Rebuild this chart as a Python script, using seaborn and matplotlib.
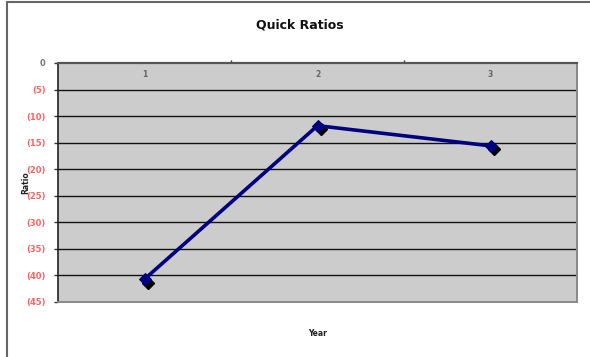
import matplotlib
matplotlib.use("Agg")
import matplotlib.pyplot as plt
import matplotlib.transforms as mtransforms
import numpy as np
import pandas as pd
import seaborn as sns

years = [1, 2, 3]
quick_ratios = [-40.7, -11.8, -15.6]
y_ticks = [0, -5, -10, -15, -20, -25, -30, -35, -40, -45]
y_tick_labels = ["0", "(5)", "(10)", "(15)", "(20)", "(25)", "(30)", "(35)", "(40)", "(45)"]

df = pd.DataFrame({"Year": years, "Ratio": quick_ratios})

sns.set_theme(style="white")
plt.rcParams["font.family"] = ["DejaVu Sans"]

fig = plt.figure(figsize=(5.9, 3.57), dpi=100)
ax = fig.add_axes([58 / 590, 1 - 302 / 357, 519 / 590, 239 / 357])
ax.set_facecolor("#cccccc")

# horizontal gridlines at each tick
for v in y_ticks[1:-1]:
    ax.axhline(v, color="#111111", lw=1.0, zorder=1)

# drop shadow for the diamond markers
shadow = ax.transData + mtransforms.ScaledTranslation(2.5 / 72, -2.5 / 72, fig.dpi_scale_trans)
ax.plot(df["Year"], df["Ratio"], ls="none", marker="D", ms=6, color="black",
        transform=shadow, zorder=3)

sns.lineplot(data=df, x="Year", y="Ratio", ax=ax, color="#000080", lw=2.6,
             marker="D", markersize=6, markeredgecolor="#000080", zorder=4)

ax.set_xlim(0.5, 3.5)
ax.set_ylim(-45, 0)

ax.set_yticks(y_ticks)
ax.set_yticklabels(y_tick_labels, fontsize=6, fontweight="bold")
for lbl in ax.get_yticklabels():
    lbl.set_color("#ff6060" if lbl.get_text() != "0" else "#777777")
ax.tick_params(axis="y", length=3, width=1, color="#333333", pad=6, left=True)

# category labels just under the top axis, tick marks between categories
ax.xaxis.set_ticks_position("top")
ax.set_xticks([1.5, 2.5])
ax.set_xticklabels([])
ax.tick_params(axis="x", length=2, width=1, color="#333333", top=True, bottom=False)
for yr in years:
    ax.text(yr, -2.2, str(yr), ha="center", va="center", fontsize=5.5,
            fontweight="bold", color="#666666", zorder=5)

for side, col, lw in [("top", "#555555", 1.6), ("left", "#222222", 1.2),
                      ("right", "#888888", 1.4), ("bottom", "#888888", 1.4)]:
    ax.spines[side].set_visible(True)
    ax.spines[side].set_color(col)
    ax.spines[side].set_linewidth(lw)

ax.set_xlabel("")
ax.set_ylabel("")
fig.text(300 / 590, 1 - 25 / 357, "Quick Ratios", ha="center", va="center",
         fontsize=9, fontweight="bold", color="#111111")
fig.text(318 / 590, 1 - 333 / 357, "Year", ha="center", va="center",
         fontsize=5.5, fontweight="bold", color="#222222")
fig.text(26 / 590, 1 - 183 / 357, "Ratio", ha="center", va="center", rotation=90,
         fontsize=5.5, fontweight="bold", color="#222222")

# outer chart frame (left and top edges)
fig.add_artist(plt.Line2D([7 / 590, 7 / 590], [0, 1 - 2 / 357], color="#666666", lw=1.5,
                          transform=fig.transFigure))
fig.add_artist(plt.Line2D([7 / 590, 1], [1 - 2 / 357, 1 - 2 / 357], color="#666666", lw=1.5,
                          transform=fig.transFigure))

fig.savefig("out.png", dpi=100, facecolor="white")
